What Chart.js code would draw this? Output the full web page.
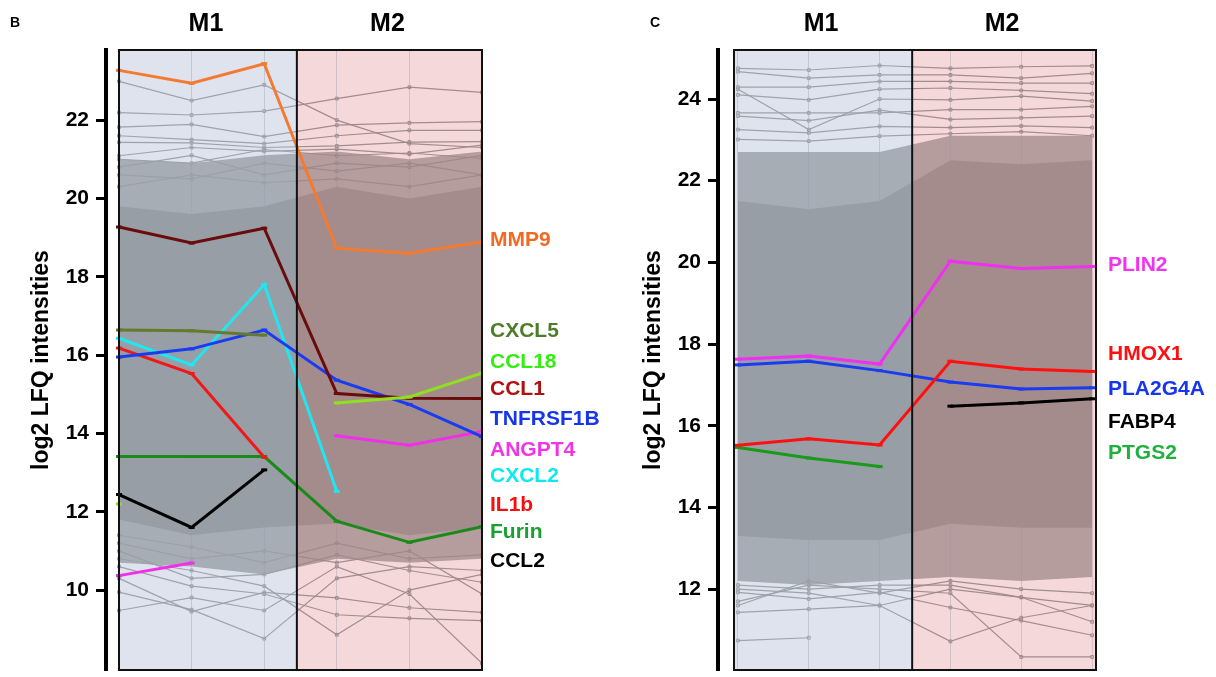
<!DOCTYPE html>
<html>
<head>
<meta charset="utf-8">
<title>LFQ profiles M1 / M2</title>
<script src="https://cdn.jsdelivr.net/npm/chart.js@4.4.1/dist/chart.umd.min.js"></script>
<style>
  html, body { margin: 0; padding: 0; background: #fff; overflow: hidden; }
  .panel { position: absolute; top: 0; height: 677px; }
  #panelB { left: 0; width: 608px; }
  #panelC { left: 612px; width: 604px; }
</style>
</head>
<body>
<div class="panel" id="panelB"><canvas id="chartB"></canvas></div>
<div class="panel" id="panelC"><canvas id="chartC"></canvas></div>
<script>
// Samples: three M1 replicates, three M2 replicates
const samples = ['M1 r1', 'M1 r2', 'M1 r3', 'M2 r1', 'M2 r2', 'M2 r3'];

// ---------- Panel B ----------
const yTicksB = [10, 12, 14, 16, 18, 20, 22];
const proteinsB = ['MMP9', 'CXCL5', 'CCL18', 'CCL1', 'TNFRSF1B', 'ANGPT4', 'CXCL2', 'IL1b', 'Furin', 'CCL2'];
const mmp9     = [23.27, 22.94, 23.44, 18.73, 18.60, 18.89];
const cxcl5    = [16.64, 16.62, 16.51, null, null, null];
const ccl18    = [12.20, null, null, 14.78, 14.93, 15.54];
const ccl1     = [19.27, 18.86, 19.24, 15.02, 14.90, 14.89];
const tnfrsf1b = [15.95, 16.16, 16.64, 15.36, 14.74, 13.92];
const angpt4   = [10.37, 10.69, null, 13.94, 13.70, 14.05];
const cxcl2    = [16.43, 15.75, 17.80, 12.52, null, null];
const il1b     = [16.18, 15.53, 13.39, null, null, null];
const furin    = [13.41, 13.41, 13.41, 11.76, 11.22, 11.62];
const ccl2     = [12.44, 11.60, 13.07, null, null, null];

// bulk of all other proteins (dense envelope) in panel B
const denseTopB    = [21.0, 20.9, 21.1, 21.2, 21.0, 21.2];
const denseBottomB = [10.7, 10.6, 10.4, 10.8, 10.7, 10.8];
const coreTopB     = [19.8, 19.6, 19.8, 20.3, 20.0, 20.3];
const coreBottomB  = [11.8, 11.4, 11.6, 11.7, 11.4, 11.6];

// individual background proteins visible outside the bulk, panel B
const otherProteinsB = [
  [22.99, 22.50, 22.90, 22.00, 21.40, 21.30],
  [22.19, 22.13, 22.23, 22.55, 22.84, 22.71],
  [21.82, 21.89, 21.58, 21.87, 21.93, 21.96],
  [21.60, 21.50, 21.40, 21.60, 21.74, 21.74],
  [21.43, 21.42, 21.30, 21.34, 21.44, 21.45],
  [21.09, 21.30, 21.20, 21.26, 21.13, 21.36],
  [21.00, 20.90, 21.25, 21.09, 21.16, 21.02],
  [20.80, 21.10, 20.60, 20.90, 20.80, 21.10],
  [20.60, 20.50, 20.90, 20.70, 20.90, 20.60],
  [20.30, 20.60, 20.40, 20.50, 20.30, 20.60],
  [9.95, 9.50, 8.76, 10.30, 10.60, 10.50],
  [10.30, 9.45, 9.94, 9.80, 9.55, 9.43],
  [10.60, 10.10, 9.90, 9.37, 9.28, 9.22],
  [10.80, 10.50, 10.10, 8.86, 10.00, 10.40],
  [9.48, 9.81, 9.48, 10.60, 9.90, 8.13],
  [11.00, 10.30, 10.40, 10.90, 10.50, 10.20],
  [11.20, 10.80, 11.00, 10.70, 11.00, 9.90],
  [11.40, 11.10, 10.70, 11.20, 10.80, 10.90]
];

// ---------- Panel C ----------
const yTicksC = [12, 14, 16, 18, 20, 22, 24];
const proteinsC = ['PLIN2', 'HMOX1', 'PLA2G4A', 'FABP4', 'PTGS2'];
const plin2   = [17.63, 17.71, 17.51, 20.03, 19.85, 19.90];
const hmox1   = [15.52, 15.68, 15.53, 17.58, 17.39, 17.33];
const pla2g4a = [17.49, 17.58, 17.35, 17.07, 16.90, 16.93];
const fabp4   = [null, null, null, 16.48, 16.56, 16.66];
const ptgs2   = [15.47, 15.21, 15.00, null, null, null];

const denseTopC    = [22.7, 22.7, 22.7, 23.1, 23.1, 23.1];
const denseBottomC = [12.2, 12.1, 12.2, 12.3, 12.2, 12.3];
const coreTopC     = [21.5, 21.3, 21.5, 22.5, 22.4, 22.5];
const coreBottomC  = [13.3, 13.2, 13.2, 13.6, 13.5, 13.5];

const otherProteinsC = [
  [24.75, 24.71, 24.82, 24.75, 24.79, 24.81],
  [24.67, 24.51, 24.59, 24.59, 24.51, 24.63],
  [24.29, 24.29, 24.43, 24.43, 24.39, 24.39],
  [24.10, 23.98, 24.24, 24.27, 24.21, 24.13],
  [24.24, 23.25, 24.00, 23.98, 24.07, 23.95],
  [23.66, 23.66, 23.66, 23.74, 23.74, 23.82],
  [23.58, 23.47, 23.73, 23.50, 23.54, 23.58],
  [23.25, 23.17, 23.33, 23.30, 23.34, 23.30],
  [23.01, 22.97, 23.09, 23.15, 23.20, 23.10],
  [10.74, 10.81, null, null, null, null],
  [11.43, 11.51, 11.60, 12.00, 11.80, 11.60],
  [11.92, 11.76, 11.92, 11.55, 11.23, 10.87],
  [11.70, 12.10, 12.00, 11.90, 10.34, 10.34],
  [12.00, 11.90, 11.60, 10.72, 11.30, 11.60],
  [12.10, 12.00, 12.10, 12.10, 11.80, 11.20],
  [11.60, 12.20, 11.90, 12.20, 12.00, 11.90]
];

Chart.defaults.font.family = "'Liberation Sans', Arial, sans-serif";
Chart.defaults.color = '#000';

const toPoints = vals => vals.map((v, i) => ({ x: i, y: v }));

// horizontal gradient with a hard switch at the M1/M2 divider
function splitColor(chart, panel, left, right) {
    const area = chart.chartArea;
    if (!area || !chart.scales.x) return left;
    const xd = chart.scales.x.getPixelForValue(panel.divider);
    const t = Math.min(1, Math.max(0, (xd - area.left) / (area.right - area.left)));
    const g = chart.ctx.createLinearGradient(area.left, 0, area.right, 0);
    g.addColorStop(0, left);
    g.addColorStop(t, left);
    g.addColorStop(t, right);
    g.addColorStop(1, right);
    return g;
}

function makePanel(panel) {
    const datasets = [];

    panel.series.forEach((vals, i) => {
        datasets.push({
            label: panel.names[i],
            data: toPoints(vals),
            order: 0,
            borderColor: panel.lineColors[i],
            borderWidth: 3,
            pointStyle: 'line',
            pointRadius: 3,
            pointBorderWidth: 3,
            pointBorderColor: panel.lineColors[i]
        });
    });

    panel.others.forEach(vals => {
        datasets.push({
            label: 'protein',
            data: toPoints(vals),
            order: 1,
            borderColor: c => splitColor(c.chart, panel, 'rgba(155,159,167,0.95)', 'rgba(158,136,136,0.95)'),
            borderWidth: 1.2,
            pointStyle: 'rect',
            pointRadius: 2,
            pointBorderWidth: 1,
            pointBackgroundColor: 'rgba(0,0,0,0)'
        });
    });

    // bulk envelope: lighter outer band, solid core band
    const band = (top, bottom, order, left, right) => {
        datasets.push({
            label: 'bulk', data: toPoints(top), order, fill: '+1',
            borderColor: 'rgba(0,0,0,0)', pointRadius: 0,
            backgroundColor: c => splitColor(c.chart, panel, left, right)
        });
        datasets.push({
            label: 'bulk', data: toPoints(bottom), order, fill: false,
            borderColor: 'rgba(0,0,0,0)', pointRadius: 0
        });
    };
    band(panel.coreTop, panel.coreBottom, 2, '#979ea6', '#a48c8c');
    band(panel.denseTop, panel.denseBottom, 3, 'rgba(151,158,166,0.78)', 'rgba(164,140,140,0.78)');

    const decor = {
        id: 'panelDecor',
        beforeDraw(chart) {
            const { ctx, chartArea: a, scales: { x } } = chart;
            const xl = x.getPixelForValue(panel.boxLeft);
            const xd = x.getPixelForValue(panel.divider);
            const xr = x.getPixelForValue(panel.boxRight);
            ctx.save();
            ctx.fillStyle = '#dfe3ee';
            ctx.fillRect(xl, a.top, xd - xl, a.bottom - a.top);
            ctx.fillStyle = '#f5d8da';
            ctx.fillRect(xd, a.top, xr - xd, a.bottom - a.top);
            ctx.restore();
        },
        afterDatasetsDraw(chart) {
            const { ctx, chartArea: a, scales: { x } } = chart;
            const xl = x.getPixelForValue(panel.boxLeft);
            const xd = x.getPixelForValue(panel.divider);
            const xr = x.getPixelForValue(panel.boxRight);
            ctx.save();
            ctx.strokeStyle = '#111';
            ctx.lineWidth = 2;
            ctx.strokeRect(xl, a.top, xr - xl, a.bottom - a.top);
            ctx.beginPath();
            ctx.moveTo(xd, a.top);
            ctx.lineTo(xd, a.bottom);
            ctx.stroke();
            ctx.restore();
        },
        afterDraw(chart) {
            const { ctx, scales: { x, y } } = chart;
            const xl = x.getPixelForValue(panel.boxLeft);
            const xd = x.getPixelForValue(panel.divider);
            const xr = x.getPixelForValue(panel.boxRight);
            ctx.save();
            ctx.textBaseline = 'middle';
            ctx.textAlign = 'center';
            ctx.fillStyle = '#000';
            ctx.font = "bold 14px 'Liberation Sans', Arial, sans-serif";
            ctx.fillText(panel.letter, panel.letterX, 23);
            ctx.font = "bold 25px 'Liberation Sans', Arial, sans-serif";
            ctx.fillText('M1', (xl + xd) / 2 - 2, 24);
            ctx.fillText('M2', (xd + xr) / 2 - 2, 24);
            ctx.textAlign = 'left';
            ctx.font = "bold 21px 'Liberation Sans', Arial, sans-serif";
            panel.names.forEach((name, i) => {
                ctx.fillStyle = panel.labelColors[i];
                ctx.fillText(name, xr + panel.labelGap, y.getPixelForValue(panel.labelY[i]));
            });
            ctx.restore();
        }
    };

    return new Chart(document.getElementById(panel.canvas), {
        type: 'line',
        data: { datasets },
        options: {
            responsive: true,
            maintainAspectRatio: false,
            animation: false,
            events: [],
            layout: { padding: { top: 50, bottom: 2, left: 0, right: panel.padRight } },
            elements: { line: { tension: 0 } },
            plugins: {
                legend: { display: false },
                tooltip: { enabled: false }
            },
            scales: {
                x: {
                    type: 'linear',
                    min: panel.xMin,
                    max: panel.xMax,
                    afterBuildTicks: s => { s.ticks = samples.map((_, i) => ({ value: i })); },
                    afterFit: s => { s.height = 0; },
                    ticks: { display: false },
                    border: { display: false },
                    grid: { drawTicks: false, color: 'rgba(150,150,162,0.35)', lineWidth: 1 }
                },
                y: {
                    min: panel.yMin,
                    max: panel.yMax,
                    afterBuildTicks: s => { s.ticks = panel.yTicks.map(v => ({ value: v })); },
                    afterFit: s => { s.width = 106; s.paddingTop = 0; s.paddingBottom = 0; },
                    border: { display: true, color: '#000', width: 4 },
                    grid: { drawOnChartArea: false, tickLength: 10, tickWidth: 3, tickColor: '#000' },
                    ticks: { color: '#000', padding: 7, font: { size: 21, weight: 'bold' } },
                    title: {
                        display: true,
                        text: 'log2 LFQ intensities',
                        color: '#000',
                        font: { size: 23, weight: 'bold' },
                        padding: { top: 28, bottom: 0 }
                    }
                }
            }
        },
        plugins: [decor]
    });
}

makePanel({
    canvas: 'chartB',
    letter: 'B', letterX: 15,
    names: proteinsB,
    series: [mmp9, cxcl5, ccl18, ccl1, tnfrsf1b, angpt4, cxcl2, il1b, furin, ccl2],
    lineColors: ['#f47a30', '#657a2c', '#8fe020', '#6b0c0c', '#1a3cf0', '#f030e8', '#20e6f0', '#f01818', '#1a8a1a', '#000000'],
    labelColors: ['#f26a21', '#4e7d2a', '#33ee10', '#b01010', '#1535ee', '#f035e8', '#10e8f0', '#f51010', '#18a030', '#000000'],
    labelY: [18.93, 16.61, 15.81, 15.13, 14.37, 13.57, 12.92, 12.16, 11.48, 10.74],
    labelGap: 8,
    others: otherProteinsB,
    denseTop: denseTopB, denseBottom: denseBottomB, coreTop: coreTopB, coreBottom: coreBottomB,
    yMin: 7.96, yMax: 23.79, yTicks: yTicksB,
    xMin: -0.179, xMax: 5, boxLeft: 0, boxRight: 5, divider: 2.45,
    padRight: 126
});

makePanel({
    canvas: 'chartC',
    letter: 'C', letterX: 43,
    names: proteinsC,
    series: [plin2, hmox1, pla2g4a, fabp4, ptgs2],
    lineColors: ['#f030f0', '#ff1010', '#1a3cf0', '#000000', '#1a9a1a'],
    labelColors: ['#f035ee', '#ff1010', '#1535ee', '#000000', '#20b040'],
    labelY: [19.93, 17.75, 16.90, 16.09, 15.32],
    labelGap: 12,
    others: otherProteinsC,
    denseTop: denseTopC, denseBottom: denseBottomC, coreTop: coreTopC, coreBottom: coreBottomC,
    yMin: 10.02, yMax: 25.2, yTicks: yTicksC,
    xMin: -0.282, xMax: 5.056, boxLeft: -0.056, boxRight: 5.056, divider: 2.46,
    padRight: 120
});
</script>
</body>
</html>
